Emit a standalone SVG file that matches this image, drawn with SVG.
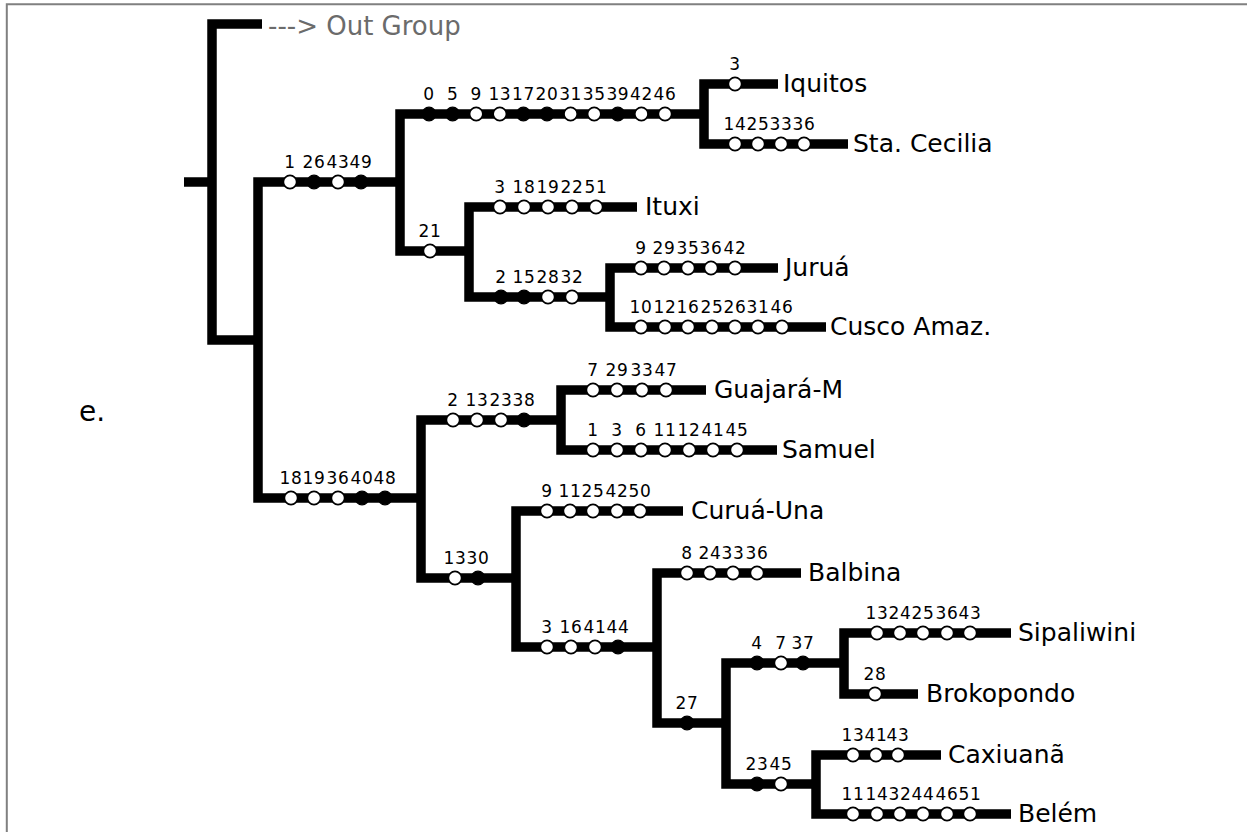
<svg xmlns="http://www.w3.org/2000/svg" width="1247" height="832" viewBox="0 0 1247 832">
<style>
.br{fill:none;stroke:#000;stroke-width:9.5;stroke-linejoin:miter;stroke-linecap:butt}
.o{fill:#fff;stroke:#000;stroke-width:1.6}
.f{fill:#000;stroke:#000;stroke-width:1.2}
.n{font-family:"DejaVu Sans",sans-serif;font-size:17px;letter-spacing:0.6px;fill:#000;text-anchor:middle}
.t{font-family:"DejaVu Sans",sans-serif;font-size:25px;fill:#000}
.og{font-family:"DejaVu Sans",sans-serif;font-size:26px;fill:#6b6b6b}
.fr{stroke:#808080;stroke-width:2;fill:none}
</style>
<defs>
<circle id="oc" class="o" r="6.6"/>
<circle id="fc" class="f" r="6.8"/>
</defs>
<rect width="1247" height="832" fill="#fff"/>
<path class="fr" d="M6.8 832 V4.2 H1247"/>
<text x="79" y="421" style="font-family:'DejaVu Sans',sans-serif;font-size:28px;fill:#000">e.</text>

<g id="connectors">
<path class="br" d="M184 182 H212"/>
<path class="br" d="M262 24 H212 V340 H258"/>
<path class="br" d="M400 182 H258 V498 H421"/>
<path class="br" d="M704 114 H400 V251 H469"/>
<path class="br" d="M778 84 H704 V144 H848"/>
<path class="br" d="M637 207 H469 V297 H610"/>
<path class="br" d="M778 268 H610 V327 H826"/>
<path class="br" d="M561 420 H421 V578 H516"/>
<path class="br" d="M706 390 H561 V450 H777"/>
<path class="br" d="M683 511 H516 V647 H657"/>
<path class="br" d="M801 573 H657 V723 H726"/>
<path class="br" d="M844 663 H726 V784 H816"/>
<path class="br" d="M1011 633 H844 V694 H918"/>
<path class="br" d="M941 755 H816 V814 H1011"/>
</g>

<g id="node-outgroup">
<text class="og" x="268" y="35">---&gt; Out Group</text>
</g>

<g id="node-A">
<circle class="o" r="6.6" cx="290" cy="182"/><circle class="f" r="6.8" cx="314" cy="182"/><circle class="o" r="6.6" cx="338" cy="182"/><circle class="f" r="6.8" cx="361" cy="182"/>
<text class="n" x="290" y="167.5">1</text><text class="n" x="314" y="167.5">26</text><text class="n" x="338" y="167.5">43</text><text class="n" x="361" y="167.5">49</text>
</g>

<g id="node-B">
<circle class="f" r="6.8" cx="429" cy="114"/><circle class="f" r="6.8" cx="452.6" cy="114"/><circle class="o" r="6.6" cx="476.2" cy="114"/><circle class="o" r="6.6" cx="499.8" cy="114"/><circle class="f" r="6.8" cx="523.4" cy="114"/><circle class="f" r="6.8" cx="547" cy="114"/><circle class="o" r="6.6" cx="570.6" cy="114"/><circle class="o" r="6.6" cx="594.2" cy="114"/><circle class="f" r="6.8" cx="617.8" cy="114"/><circle class="o" r="6.6" cx="641.4" cy="114"/><circle class="o" r="6.6" cx="665" cy="114"/>
<text class="n" x="429" y="99.5">0</text><text class="n" x="452.6" y="99.5">5</text><text class="n" x="476.2" y="99.5">9</text><text class="n" x="499.8" y="99.5">13</text><text class="n" x="523.4" y="99.5">17</text><text class="n" x="547" y="99.5">20</text><text class="n" x="570.6" y="99.5">31</text><text class="n" x="594.2" y="99.5">35</text><text class="n" x="617.8" y="99.5">39</text><text class="n" x="641.4" y="99.5">42</text><text class="n" x="665" y="99.5">46</text>
</g>

<g id="node-Iquitos">
<circle class="o" r="6.6" cx="735" cy="84"/><text class="n" x="735" y="69.5">3</text>
<text class="t" x="783" y="92">Iquitos</text>
</g>

<g id="node-StaCecilia">
<circle class="o" r="6.6" cx="735" cy="144"/><circle class="o" r="6.6" cx="758" cy="144"/><circle class="o" r="6.6" cx="781" cy="144"/><circle class="o" r="6.6" cx="804" cy="144"/>
<text class="n" x="735" y="129.5">14</text><text class="n" x="758" y="129.5">25</text><text class="n" x="781" y="129.5">33</text><text class="n" x="804" y="129.5">36</text>
<text class="t" x="853" y="152">Sta. Cecilia</text>
</g>

<g id="node-C">
<circle class="o" r="6.6" cx="430" cy="251"/><text class="n" x="430" y="236.5">21</text>
</g>

<g id="node-Ituxi">
<circle class="o" r="6.6" cx="500" cy="207"/><circle class="o" r="6.6" cx="524" cy="207"/><circle class="o" r="6.6" cx="548" cy="207"/><circle class="o" r="6.6" cx="572" cy="207"/><circle class="o" r="6.6" cx="596" cy="207"/>
<text class="n" x="500" y="192.5">3</text><text class="n" x="524" y="192.5">18</text><text class="n" x="548" y="192.5">19</text><text class="n" x="572" y="192.5">22</text><text class="n" x="596" y="192.5">51</text>
<text class="t" x="645" y="215">Ituxi</text>
</g>

<g id="node-D">
<circle class="f" r="6.8" cx="501" cy="297"/><circle class="f" r="6.8" cx="524" cy="297"/><circle class="o" r="6.6" cx="548" cy="297"/><circle class="o" r="6.6" cx="572" cy="297"/>
<text class="n" x="501" y="282.5">2</text><text class="n" x="524" y="282.5">15</text><text class="n" x="548" y="282.5">28</text><text class="n" x="572" y="282.5">32</text>
</g>

<g id="node-Jurua">
<circle class="o" r="6.6" cx="641" cy="268"/><circle class="o" r="6.6" cx="664" cy="268"/><circle class="o" r="6.6" cx="688" cy="268"/><circle class="o" r="6.6" cx="711" cy="268"/><circle class="o" r="6.6" cx="735" cy="268"/>
<text class="n" x="641" y="253.5">9</text><text class="n" x="664" y="253.5">29</text><text class="n" x="688" y="253.5">35</text><text class="n" x="711" y="253.5">36</text><text class="n" x="735" y="253.5">42</text>
<text class="t" x="785" y="276">Juruá</text>
</g>

<g id="node-Cusco">
<circle class="o" r="6.6" cx="641" cy="327"/><circle class="o" r="6.6" cx="665" cy="327"/><circle class="o" r="6.6" cx="688" cy="327"/><circle class="o" r="6.6" cx="712" cy="327"/><circle class="o" r="6.6" cx="735" cy="327"/><circle class="o" r="6.6" cx="758" cy="327"/><circle class="o" r="6.6" cx="782" cy="327"/>
<text class="n" x="641" y="312.5">10</text><text class="n" x="665" y="312.5">12</text><text class="n" x="688" y="312.5">16</text><text class="n" x="712" y="312.5">25</text><text class="n" x="735" y="312.5">26</text><text class="n" x="758" y="312.5">31</text><text class="n" x="782" y="312.5">46</text>
<text class="t" x="830" y="335">Cusco Amaz.</text>
</g>

<g id="node-E">
<circle class="o" r="6.6" cx="291" cy="498"/><circle class="o" r="6.6" cx="314" cy="498"/><circle class="o" r="6.6" cx="338" cy="498"/><circle class="f" r="6.8" cx="362" cy="498"/><circle class="f" r="6.8" cx="385" cy="498"/>
<text class="n" x="291" y="483.5">18</text><text class="n" x="314" y="483.5">19</text><text class="n" x="338" y="483.5">36</text><text class="n" x="362" y="483.5">40</text><text class="n" x="385" y="483.5">48</text>
</g>

<g id="node-F">
<circle class="o" r="6.6" cx="453" cy="420"/><circle class="o" r="6.6" cx="477" cy="420"/><circle class="o" r="6.6" cx="501" cy="420"/><circle class="f" r="6.8" cx="524" cy="420"/>
<text class="n" x="453" y="405.5">2</text><text class="n" x="477" y="405.5">13</text><text class="n" x="501" y="405.5">23</text><text class="n" x="524" y="405.5">38</text>
</g>

<g id="node-Guajara">
<circle class="o" r="6.6" cx="593" cy="390"/><circle class="o" r="6.6" cx="617" cy="390"/><circle class="o" r="6.6" cx="642" cy="390"/><circle class="o" r="6.6" cx="666" cy="390"/>
<text class="n" x="593" y="375.5">7</text><text class="n" x="617" y="375.5">29</text><text class="n" x="642" y="375.5">33</text><text class="n" x="666" y="375.5">47</text>
<text class="t" x="714" y="398">Guajará-M</text>
</g>

<g id="node-Samuel">
<circle class="o" r="6.6" cx="593" cy="450"/><circle class="o" r="6.6" cx="617" cy="450"/><circle class="o" r="6.6" cx="641" cy="450"/><circle class="o" r="6.6" cx="665" cy="450"/><circle class="o" r="6.6" cx="689" cy="450"/><circle class="o" r="6.6" cx="713" cy="450"/><circle class="o" r="6.6" cx="737" cy="450"/>
<text class="n" x="593" y="435.5">1</text><text class="n" x="617" y="435.5">3</text><text class="n" x="641" y="435.5">6</text><text class="n" x="665" y="435.5">11</text><text class="n" x="689" y="435.5">12</text><text class="n" x="713" y="435.5">41</text><text class="n" x="737" y="435.5">45</text>
<text class="t" x="782" y="458">Samuel</text>
</g>

<g id="node-G">
<circle class="o" r="6.6" cx="455" cy="578"/><circle class="f" r="6.8" cx="478" cy="578"/>
<text class="n" x="455" y="563.5">13</text><text class="n" x="478" y="563.5">30</text>
</g>

<g id="node-CuruaUna">
<circle class="o" r="6.6" cx="547" cy="511"/><circle class="o" r="6.6" cx="570" cy="511"/><circle class="o" r="6.6" cx="593" cy="511"/><circle class="o" r="6.6" cx="617" cy="511"/><circle class="o" r="6.6" cx="640" cy="511"/>
<text class="n" x="547" y="496.5">9</text><text class="n" x="570" y="496.5">11</text><text class="n" x="593" y="496.5">25</text><text class="n" x="617" y="496.5">42</text><text class="n" x="640" y="496.5">50</text>
<text class="t" x="691" y="519">Curuá-Una</text>
</g>

<g id="node-H">
<circle class="o" r="6.6" cx="547" cy="647"/><circle class="o" r="6.6" cx="571" cy="647"/><circle class="o" r="6.6" cx="595" cy="647"/><circle class="f" r="6.8" cx="618" cy="647"/>
<text class="n" x="547" y="632.5">3</text><text class="n" x="571" y="632.5">16</text><text class="n" x="595" y="632.5">41</text><text class="n" x="618" y="632.5">44</text>
</g>

<g id="node-Balbina">
<circle class="o" r="6.6" cx="687" cy="573"/><circle class="o" r="6.6" cx="710" cy="573"/><circle class="o" r="6.6" cx="733" cy="573"/><circle class="o" r="6.6" cx="757" cy="573"/>
<text class="n" x="687" y="558.5">8</text><text class="n" x="710" y="558.5">24</text><text class="n" x="733" y="558.5">33</text><text class="n" x="757" y="558.5">36</text>
<text class="t" x="808" y="581">Balbina</text>
</g>

<g id="node-I">
<circle class="f" r="6.8" cx="687" cy="723"/><text class="n" x="687" y="708.5">27</text>
</g>

<g id="node-J">
<circle class="f" r="6.8" cx="757" cy="663"/><circle class="o" r="6.6" cx="781" cy="663"/><circle class="f" r="6.8" cx="803" cy="663"/>
<text class="n" x="757" y="648.5">4</text><text class="n" x="781" y="648.5">7</text><text class="n" x="803" y="648.5">37</text>
</g>

<g id="node-Sipaliwini">
<circle class="o" r="6.6" cx="877" cy="633"/><circle class="o" r="6.6" cx="900" cy="633"/><circle class="o" r="6.6" cx="923" cy="633"/><circle class="o" r="6.6" cx="947" cy="633"/><circle class="o" r="6.6" cx="970" cy="633"/>
<text class="n" x="877" y="618.5">13</text><text class="n" x="900" y="618.5">24</text><text class="n" x="923" y="618.5">25</text><text class="n" x="947" y="618.5">36</text><text class="n" x="970" y="618.5">43</text>
<text class="t" x="1018" y="641">Sipaliwini</text>
</g>

<g id="node-Brokopondo">
<circle class="o" r="6.6" cx="875" cy="694"/><text class="n" x="875" y="679.5">28</text>
<text class="t" x="926" y="702">Brokopondo</text>
</g>

<g id="node-K">
<circle class="f" r="6.8" cx="757" cy="784"/><circle class="o" r="6.6" cx="781" cy="784"/>
<text class="n" x="757" y="769.5">23</text><text class="n" x="781" y="769.5">45</text>
</g>

<g id="node-Caxiuana">
<circle class="o" r="6.6" cx="853" cy="755"/><circle class="o" r="6.6" cx="876" cy="755"/><circle class="o" r="6.6" cx="898" cy="755"/>
<text class="n" x="853" y="740.5">13</text><text class="n" x="876" y="740.5">41</text><text class="n" x="898" y="740.5">43</text>
<text class="t" x="948" y="763">Caxiuanã</text>
</g>

<g id="node-Belem">
<circle class="o" r="6.6" cx="853" cy="814"/><circle class="o" r="6.6" cx="877" cy="814"/><circle class="o" r="6.6" cx="900" cy="814"/><circle class="o" r="6.6" cx="923" cy="814"/><circle class="o" r="6.6" cx="947" cy="814"/><circle class="o" r="6.6" cx="970" cy="814"/>
<text class="n" x="853" y="799.5">11</text><text class="n" x="877" y="799.5">14</text><text class="n" x="900" y="799.5">32</text><text class="n" x="923" y="799.5">44</text><text class="n" x="947" y="799.5">46</text><text class="n" x="970" y="799.5">51</text>
<text class="t" x="1018" y="822">Belém</text>
</g>
</svg>
